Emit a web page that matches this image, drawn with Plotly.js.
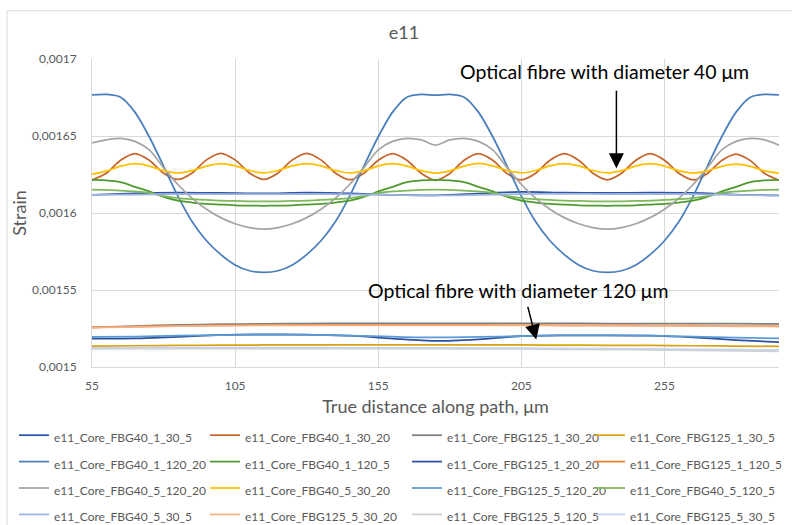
<!DOCTYPE html>
<html><head><meta charset="utf-8">
<script src="https://cdn.plot.ly/plotly-3.0.1.min.js"></script>
<style>html,body{margin:0;padding:0;background:#fff}#chart{width:792px;height:525px}</style>
</head><body><div id="chart"></div>
<script>
// ---- data ----
const xFine = [55,60,65,70,75,80,85,90,95,100,105,110,115,120,125,130,135,140,145,150,155,160,165,170,175,180,185,190,195,200,205,210,215,220,225,230,235,240,245,250,255,260,265,270,275,280,285,290,295];
const xCoarse = [55,70,85,100,115,130,145,160,175,190,205,220,235,250,265,280,295];

const seriesNames = ['e11_Core_FBG40_1_30_5','e11_Core_FBG40_1_30_20','e11_Core_FBG125_1_30_20','e11_Core_FBG125_1_30_5',
  'e11_Core_FBG40_1_120_20','e11_Core_FBG40_1_120_5','e11_Core_FBG125_1_20_20','e11_Core_FBG125_1_120_5',
  'e11_Core_FBG40_5_120_20','e11_Core_FBG40_5_30_20','e11_Core_FBG125_5_120_20','e11_Core_FBG40_5_120_5',
  'e11_Core_FBG40_5_30_5','e11_Core_FBG125_5_30_20','e11_Core_FBG125_5_120_5','e11_Core_FBG125_5_30_5'];

// FBG40 (upper group)
const fbg40_1_30_5 = [0.0016118,0.0016128,0.0016132,0.001613,0.0016127,0.0016132,0.0016128,0.0016117,0.0016115,0.0016126,0.0016137,0.0016132,0.001613,0.0016133,0.0016131,0.001612,0.0016114];
const fbg40_1_30_20 = [0.0016215,0.0016258,0.0016343,0.0016386,0.0016343,0.0016258,
  0.0016218,0.001626,0.0016345,0.0016388,0.0016345,0.001626,
  0.0016218,0.001626,0.0016345,0.0016388,0.0016345,0.001626,
  0.0016216,0.0016258,0.0016343,0.0016386,0.0016343,0.0016258,
  0.0016212,0.0016256,0.0016342,0.0016385,0.0016342,0.0016256,
  0.0016215,0.0016258,0.0016343,0.0016386,0.0016343,0.0016258,
  0.0016215,0.0016258,0.0016343,0.0016386,0.0016343,0.0016258,
  0.0016215,0.0016257,0.0016341,0.0016383,0.001634,0.0016256,
  0.0016213];
const fbg40_1_120_20 = [0.0016767,0.001677,0.0016752,0.0016655,0.0016495,0.0016305,0.001611,0.0015943,0.001582,0.001573,0.0015663,0.0015625,0.0015615,
  0.0015625,0.0015663,0.001573,0.001582,0.0015943,0.001611,0.0016305,0.0016495,0.0016655,0.0016752,0.001677,0.0016765,
  0.001677,0.0016752,0.0016655,0.0016495,0.0016305,0.001611,0.0015943,0.001582,0.001573,0.0015663,0.0015625,0.0015615,
  0.0015625,0.0015663,0.001573,0.001582,0.0015943,0.001611,0.0016305,0.0016495,0.0016655,0.0016752,0.001677,0.0016767];
const fbg40_1_120_5 = [0.0016215,0.0016212,0.00162,0.001617,0.001614,0.0016105,0.001608,0.0016068,0.001606,0.0016055,0.001605,0.0016048,0.0016047,
  0.0016048,0.001605,0.0016055,0.001606,0.0016068,0.001608,0.0016105,0.001614,0.001617,0.00162,0.0016212,0.0016215,
  0.0016212,0.00162,0.001617,0.001614,0.0016105,0.001608,0.0016068,0.001606,0.0016055,0.001605,0.0016048,0.0016047,
  0.0016048,0.001605,0.0016055,0.001606,0.0016068,0.001608,0.0016105,0.001614,0.001617,0.00162,0.0016212,0.0016215];
const fbg40_5_120_20 = [0.0016455,0.0016475,0.0016485,0.0016465,0.001641,0.0016295,0.0016185,0.0016095,0.0016025,0.001597,0.001593,0.0015905,0.0015895,
  0.0015905,0.001593,0.001597,0.0016025,0.0016095,0.0016185,0.0016295,0.001641,0.0016465,0.0016485,0.0016475,0.001644,
  0.0016475,0.0016485,0.0016465,0.001641,0.0016295,0.0016185,0.0016095,0.0016025,0.001597,0.001593,0.0015905,0.0015895,
  0.0015905,0.001593,0.001597,0.0016025,0.0016095,0.0016185,0.0016295,0.001641,0.0016465,0.0016485,0.0016475,0.001644];
const fbg40_5_30_20 = [0.0016252,0.0016272,0.0016304,0.001632,0.0016305,0.0016275,
  0.001626,0.0016275,0.0016305,0.0016321,0.0016306,0.0016276,
  0.0016261,0.0016276,0.0016306,0.0016321,0.0016306,0.0016276,
  0.001626,0.0016275,0.0016305,0.001632,0.0016305,0.0016275,
  0.0016259,0.0016274,0.0016305,0.0016322,0.0016306,0.0016276,
  0.0016261,0.0016276,0.0016306,0.0016321,0.0016306,0.0016276,
  0.001626,0.0016275,0.0016305,0.001632,0.0016305,0.0016275,
  0.001626,0.0016274,0.0016303,0.0016318,0.0016303,0.0016273,
  0.0016258];
const fbg40_5_120_5 = [0.0016152,0.001615,0.0016145,0.001614,0.001613,0.001611,0.0016097,0.001609,0.0016085,0.001608,0.0016078,0.0016076,0.0016075,
  0.0016076,0.0016078,0.001608,0.0016085,0.001609,0.0016097,0.001611,0.001613,0.001614,0.0016145,0.001615,0.0016152,
  0.001615,0.0016145,0.001614,0.001613,0.001611,0.0016097,0.001609,0.0016085,0.001608,0.0016078,0.0016076,0.0016075,
  0.0016076,0.0016078,0.001608,0.0016085,0.001609,0.0016097,0.001611,0.001613,0.001614,0.0016145,0.001615,0.0016152];
const fbg40_5_30_5 = [0.0016117,0.001612,0.0016122,0.0016123,0.0016122,0.0016123,0.0016121,0.0016117,0.0016114,0.0016117,0.0016123,0.0016124,0.0016123,0.0016123,0.0016122,0.0016117,0.0016114];

// FBG125 (lower group)
const fbg125_1_30_20 = [0.0015258,0.0015266,0.0015273,0.0015278,0.001528,0.0015282,0.0015283,0.0015283,0.0015283,0.0015283,0.0015283,0.0015283,0.0015282,0.0015282,0.0015281,0.0015281,0.001528];
const fbg125_1_30_5 = [0.0015135,0.0015138,0.001514,0.0015142,0.0015143,0.0015143,0.0015143,0.0015143,0.0015143,0.0015143,0.0015143,0.0015142,0.0015141,0.001514,0.0015138,0.0015136,0.0015134];
const fbg125_1_20_20 = [0.0015184,0.0015186,0.0015196,0.0015208,0.0015212,0.001521,0.0015203,0.0015184,0.0015169,0.001518,0.00152,0.0015205,0.0015206,0.0015203,0.0015192,0.0015175,0.0015162];
const fbg125_1_120_5 = [0.0015257,0.0015262,0.0015267,0.001527,0.0015272,0.0015273,0.0015273,0.0015273,0.0015273,0.0015273,0.0015272,0.0015271,0.001527,0.0015269,0.0015268,0.0015266,0.0015265];
const fbg125_5_120_20 = [0.0015196,0.0015198,0.0015203,0.0015207,0.0015209,0.0015208,0.0015204,0.0015197,0.0015192,0.0015195,0.0015201,0.0015205,0.0015206,0.0015204,0.0015198,0.0015191,0.0015186];
const fbg125_5_30_20 = [0.0015255,0.001526,0.0015265,0.0015268,0.001527,0.0015271,0.0015271,0.0015271,0.0015271,0.001527,0.001527,0.0015269,0.0015268,0.0015267,0.0015266,0.0015264,0.0015263];
const fbg125_5_120_5 = [0.0015118,0.0015119,0.001512,0.001512,0.001512,0.001512,0.001512,0.001512,0.0015119,0.0015118,0.0015117,0.0015115,0.0015113,0.0015111,0.0015108,0.0015105,0.0015102];
const fbg125_5_30_5 = [0.0015124,0.0015125,0.0015126,0.0015126,0.0015126,0.0015126,0.0015125,0.0015125,0.0015124,0.0015123,0.0015122,0.0015121,0.0015119,0.0015117,0.0015115,0.0015113,0.0015111];

const xTickVals = [55,105,155,205,255];
const yTickVals = [0.0015,0.00155,0.0016,0.00165,0.0017];
const yTickText = ['0,0015','0,00155','0,0016','0,00165','0,0017'];

// ---- styling ----
const seriesY = [fbg40_1_30_5, fbg40_1_30_20, fbg125_1_30_20, fbg125_1_30_5,
  fbg40_1_120_20, fbg40_1_120_5, fbg125_1_20_20, fbg125_1_120_5,
  fbg40_5_120_20, fbg40_5_30_20, fbg125_5_120_20, fbg40_5_120_5,
  fbg40_5_30_5, fbg125_5_30_20, fbg125_5_120_5, fbg125_5_30_5];
const colors = ['#2E55A6','#C5652D','#7F7F7F','#D9A30F',
  '#4A7EBD','#4F9A2E','#2F4F9F','#ED7D31',
  '#A5A5A5','#FFC000','#5B9BD5','#7DB85A',
  '#9DB5E0','#F4B183','#CFCFCF','#C5D3EE'];
const legendIds = ['legend','legend2','legend3','legend4'];

const FONT = 'Lato, "Liberation Sans", sans-serif';
const traces = seriesY.map((y, i) => ({
  type: 'scatter', mode: 'lines',
  x: y.length === xFine.length ? xFine : xCoarse,
  y: y,
  name: '<span style="font-size:12px">' + seriesNames[i] + '</span>',
  legend: legendIds[i % 4],
  line: {color: colors[i], width: 1.75, shape: 'spline', smoothing: 0.8},
  hoverinfo: 'skip'
}));

// one horizontal legend per column; wide entries force one item per row
function legendAt(px) {
  return {orientation: 'h', xref: 'container', yref: 'container', x: px/792, y: 1 - 417/525,
    xanchor: 'left', yanchor: 'top', entrywidth: 420, entrywidthmode: 'pixels',
    font: {size: 18, color: '#595959', family: FONT},
    bgcolor: 'rgba(0,0,0,0)', traceorder: 'normal'};
}

const layout = {
  width: 792, height: 525,
  paper_bgcolor: '#ffffff', plot_bgcolor: '#ffffff',
  margin: {l: 92, r: 13, t: 59, b: 158},
  separators: ', ',
  font: {family: FONT, color: '#595959'},
  title: {text: 'e11', font: {size: 18, color: '#595959', family: FONT},
    x: 404/792, xref: 'container', xanchor: 'center', y: 1 - 33/525, yref: 'container', yanchor: 'middle'},
  xaxis: {range: [55, 295], tickvals: xTickVals, showgrid: true, gridcolor: '#D9D9D9', gridwidth: 1,
    showline: true, linecolor: '#D9D9D9', zeroline: false, ticks: '', ticklabelstandoff: 8,
    tickfont: {size: 12, color: '#595959'},
    title: {text: 'True distance along path, μm', font: {size: 18, color: '#595959'}, standoff: 17}},
  yaxis: {range: [0.0015, 0.0017], tickvals: yTickVals, ticktext: yTickText, showgrid: true, gridcolor: '#D9D9D9', gridwidth: 1,
    showline: true, linecolor: '#D9D9D9', zeroline: false, ticks: '', ticklabelstandoff: 12,
    tickfont: {size: 12, color: '#595959'},
    title: {text: 'Strain', font: {size: 18, color: '#595959'}, standoff: 0}},
  showlegend: true,
  legend: legendAt(14),
  legend2: legendAt(205),
  legend3: legendAt(407),
  legend4: legendAt(590),
  shapes: [
    {type: 'line', xref: 'paper', yref: 'paper', x0: -85/687, x1: -85/687, y0: -0.52, y1: (367-10.7)/308, line: {color: '#D9D9D9', width: 1}},
    {type: 'line', xref: 'paper', yref: 'paper', x0: -85/687, x1: 1.03, y0: (367-10.7)/308, y1: (367-10.7)/308, line: {color: '#D9D9D9', width: 1}}
  ],
  annotations: [
    {xref: 'x', yref: 'y', x: 234, y: 0.001692, text: 'Optical fibre with diameter 40 μm', showarrow: false,
      font: {size: 19.5, color: '#000000', family: FONT}, xanchor: 'center', yanchor: 'middle'},
    {xref: 'x', yref: 'y', x: 238.2, y: 0.001629, axref: 'x', ayref: 'y', ax: 238.2, ay: 0.0016803, text: '',
      showarrow: true, arrowhead: 2, arrowsize: 2, arrowwidth: 1.5, arrowcolor: '#000000'},
    {xref: 'x', yref: 'y', x: 203.8, y: 0.0015498, text: 'Optical fibre with diameter 120 μm', showarrow: false,
      font: {size: 19.5, color: '#000000', family: FONT}, xanchor: 'center', yanchor: 'middle'},
    {xref: 'x', yref: 'y', x: 210.2, y: 0.0015178, axref: 'x', ayref: 'y', ax: 207.1, ay: 0.0015401, text: '',
      showarrow: true, arrowhead: 2, arrowsize: 2, arrowwidth: 1.5, arrowcolor: '#000000'}
  ]
};

Plotly.newPlot('chart', traces, layout, {displayModeBar: false, staticPlot: true});
</script>
</body></html>
